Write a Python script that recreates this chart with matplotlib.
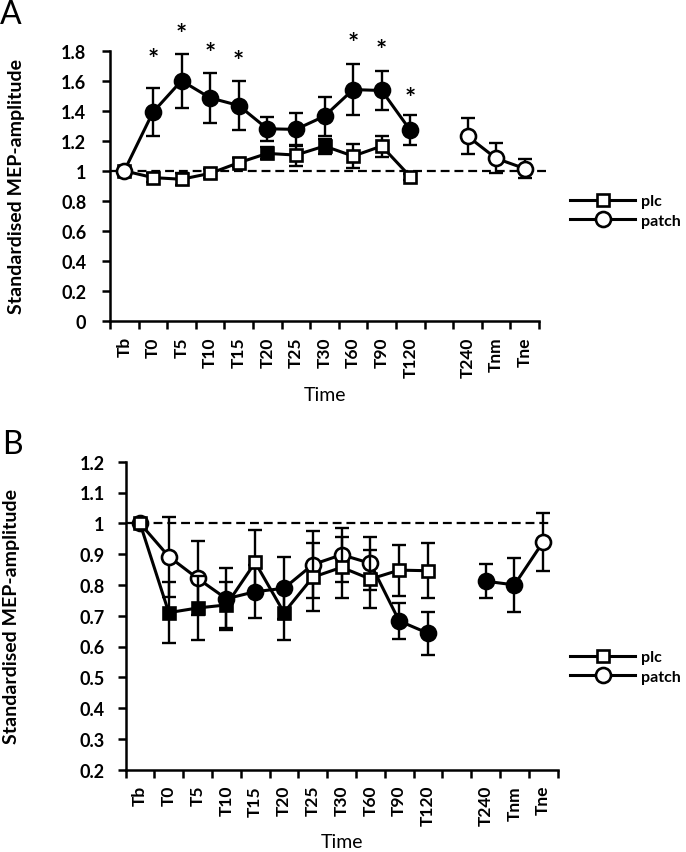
import numpy as np
import matplotlib
matplotlib.use("Agg")
import matplotlib.pyplot as plt
from matplotlib.lines import Line2D

plt.rcParams['font.family'] = ['Lato', 'DejaVu Sans']

nan = np.nan
categories = ['Tb', 'T0', 'T5', 'T10', 'T15', 'T20', 'T25', 'T30', 'T60', 'T90', 'T120', '', 'T240', 'Tnm', 'Tne']

# Panel A
a_plc_mean = [1.00, 0.955, 0.944, 0.983, 1.054, 1.116, 1.105, 1.165, 1.098, 1.165, 0.961, nan, nan, nan, nan]
a_plc_se = [0.0, 0.03, 0.04, 0.03, 0.03, 0.04, 0.07, 0.05, 0.08, 0.07, 0.02, nan, nan, nan, nan]
a_plc_filled = [0, 0, 0, 0, 0, 1, 0, 1, 0, 0, 0, 0, 0, 0, 0]
a_patch_mean = [1.00, 1.39, 1.60, 1.486, 1.435, 1.28, 1.276, 1.364, 1.541, 1.535, 1.27, nan, 1.231, 1.083, 1.015]
a_patch_se = [0.0, 0.16, 0.18, 0.165, 0.16, 0.08, 0.11, 0.13, 0.17, 0.13, 0.10, nan, 0.12, 0.10, 0.065]
a_patch_filled = [0, 1, 1, 1, 1, 1, 1, 1, 1, 1, 1, 0, 0, 0, 0]
a_star_cats = ['T0', 'T5', 'T10', 'T15', 'T60', 'T90', 'T120']
a_star_y = [1.78, 1.95, 1.82, 1.77, 1.89, 1.84, 1.52]
a_yticks = [0, 0.2, 0.4, 0.6, 0.8, 1, 1.2, 1.4, 1.6, 1.8]
a_yticklabels = ['0', '0.2', '0.4', '0.6', '0.8', '1', '1.2', '1.4', '1.6', '1.8']

# Panel B
b_plc_mean = [1.00, 0.71, 0.725, 0.735, 0.873, 0.71, 0.825, 0.857, 0.819, 0.848, 0.846, nan, nan, nan, nan]
b_plc_se = [0.0, 0.10, 0.105, 0.075, 0.105, 0.09, 0.11, 0.10, 0.095, 0.083, 0.09, nan, nan, nan, nan]
b_plc_filled = [0, 1, 1, 1, 0, 1, 0, 0, 0, 0, 0, 0, 0, 0, 0]
b_patch_mean = [1.00, 0.892, 0.821, 0.755, 0.778, 0.789, 0.866, 0.898, 0.87, 0.683, 0.643, nan, 0.812, 0.80, 0.94]
b_patch_se = [0.0, 0.13, 0.12, 0.10, 0.085, 0.10, 0.11, 0.087, 0.087, 0.058, 0.069, nan, 0.056, 0.088, 0.095]
b_patch_filled = [0, 0, 0, 1, 1, 1, 0, 0, 0, 1, 1, 0, 1, 1, 0]
b_yticks = [0.2, 0.3, 0.4, 0.5, 0.6, 0.7, 0.8, 0.9, 1.0, 1.1, 1.2]
b_yticklabels = ['0.2', '0.3', '0.4', '0.5', '0.6', '0.7', '0.8', '0.9', '1', '1.1', '1.2']

series_names = ['plc', 'patch']

W, H = 686, 853
fig = plt.figure(figsize=(W / 100, H / 100), dpi=100)

def px_axes(left, right, top, bottom):
    return fig.add_axes([left / W, 1 - bottom / H, (right - left) / W, (bottom - top) / H])

axA = px_axes(110, 539, 51.7, 322)
axB = px_axes(125.6, 557.6, 462.7, 770.7)

LW = 2.2
MEW = 1.9

def draw_series(ax, mean, se, filled, marker, ms, z):
    x = np.arange(len(categories))
    m = np.array(mean, dtype=float)
    s = np.array(se, dtype=float)
    f = np.array(filled, dtype=bool)
    ok = ~np.isnan(m)
    ax.errorbar(x[ok], m[ok], yerr=s[ok], fmt='none', ecolor='black', elinewidth=1.7,
                capsize=5, capthick=1.7, zorder=z, clip_on=False)
    ax.plot(x, m, '-', color='black', lw=LW, zorder=z + 0.1, clip_on=False)
    sel = ok & f
    ax.plot(x[sel], m[sel], linestyle='none', marker=marker, ms=ms, mfc='black', mec='black',
            mew=MEW, zorder=z + 0.2, clip_on=False)
    sel = ok & ~f
    ax.plot(x[sel], m[sel], linestyle='none', marker=marker, ms=ms, mfc='white', mec='black',
            mew=MEW, zorder=z + 0.2, clip_on=False)

def style_axis(ax, ymin, ymax, yticks, yticklabels, ypad):
    n = len(categories)
    ax.set_xlim(-0.5, n - 0.5)
    ax.set_ylim(ymin, ymax)
    for sp in ['top', 'right']:
        ax.spines[sp].set_visible(False)
    for sp in ['left', 'bottom']:
        ax.spines[sp].set_linewidth(1.8)
    ax.set_yticks(yticks)
    ax.set_yticklabels(yticklabels, fontsize=13, fontweight='bold')
    ax.set_xticks(np.arange(n + 1) - 0.5)
    ax.set_xticklabels([])
    ax.set_xticks(np.arange(n), minor=True)
    ax.set_xticklabels(categories, minor=True, rotation=90, fontsize=12.5, fontweight='bold')
    ax.tick_params(axis='x', which='minor', length=0, pad=11)
    ax.tick_params(axis='both', which='major', length=6, width=1.8, direction='out')
    ax.tick_params(axis='y', pad=ypad)
    ax.set_xlabel('Time', fontsize=14)
    ax.set_ylabel('Standardised MEP-amplitude', fontsize=14, fontweight='bold')

# Panel A
style_axis(axA, 0, 1.8, a_yticks, a_yticklabels, 11)
axA.plot([-0.5, 14.8], [1, 1], ls=(0, (4, 2.2)), color='black', lw=1.6, zorder=1, clip_on=False)
draw_series(axA, a_plc_mean, a_plc_se, a_plc_filled, 's', 9.2, 3)
draw_series(axA, a_patch_mean, a_patch_se, a_patch_filled, 'o', 10.8, 4)
for c, yv in zip(a_star_cats, a_star_y):
    axA.annotate('*', (categories.index(c), yv), xytext=(0, -4), textcoords='offset points',
                 ha='center', va='center', fontsize=19, fontweight='bold', annotation_clip=False)
axA.yaxis.set_label_coords(-0.198, 0.5)
axA.xaxis.set_label_coords(0.5, -0.24)

# Panel B
style_axis(axB, 0.2, 1.2, b_yticks, b_yticklabels, 9)
axB.plot([-0.5, 14.34], [1, 1], ls=(0, (4, 2.2)), color='black', lw=1.6, zorder=1, clip_on=False)
draw_series(axB, b_patch_mean, b_patch_se, b_patch_filled, 'o', 10.8, 3)
draw_series(axB, b_plc_mean, b_plc_se, b_plc_filled, 's', 9.2, 4)
axB.yaxis.set_label_coords(-0.244, 0.5)
axB.xaxis.set_label_coords(0.5, -0.205)

def add_legend(ycenter_px):
    handles = [Line2D([], [], color='black', lw=LW, marker='s', ms=9.2, mfc='white', mec='black', mew=MEW),
               Line2D([], [], color='black', lw=LW, marker='o', ms=10.8, mfc='white', mec='black', mew=MEW)]
    fig.legend(handles, series_names, loc='center left',
               bbox_to_anchor=(570 / W, 1 - ycenter_px / H), frameon=False,
               handlelength=4.1, labelspacing=0.35, handletextpad=0.35,
               borderaxespad=0, borderpad=0, prop={'weight': 'bold', 'size': 11.5})

add_legend(212)
add_legend(668)

fig.text(11 / W, 1 - 15 / H, 'A', fontsize=23, ha='center', va='center')
fig.text(12 / W, 1 - 445 / H, 'B', fontsize=23, ha='center', va='center')

fig.savefig('out.png', dpi=100)
